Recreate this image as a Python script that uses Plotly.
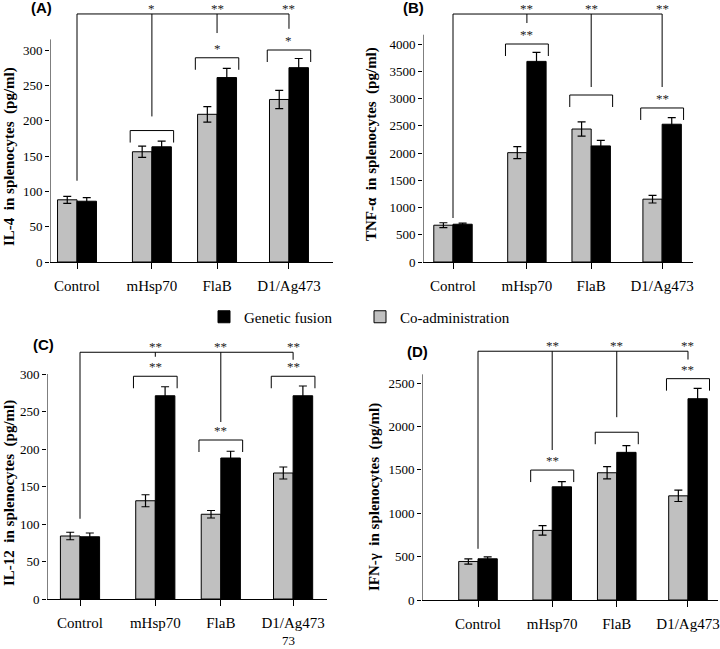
import plotly.graph_objects as go

# ---------------- data ----------------
categories = ["Control", "mHsp70", "FlaB", "D1/Ag473"]

il4_co = [88, 156, 209, 230]
il4_co_err = [5, 8, 11, 13]
il4_gf = [86, 163, 261, 275]
il4_gf_err = [5, 8, 13, 13]

tnf_co = [675, 2006, 2440, 1153]
tnf_co_err = [45, 110, 130, 70]
tnf_gf = [693, 3681, 2130, 2528]
tnf_gf_err = [20, 165, 100, 120]

il12_co = [84, 131, 113, 168]
il12_co_err = [5, 8, 5, 8]
il12_gf = [83, 271, 188, 271]
il12_gf_err = [5, 12, 9, 13]

ifn_co = [444, 802, 1466, 1200]
ifn_co_err = [30, 55, 70, 65]
ifn_gf = [475, 1304, 1701, 2319]
ifn_gf_err = [22, 60, 78, 120]

il4_ticks = [0, 50, 100, 150, 200, 250, 300]
tnf_ticks = [0, 500, 1000, 1500, 2000, 2500, 3000, 3500, 4000]
il12_ticks = [0, 50, 100, 150, 200, 250, 300]
ifn_ticks = [0, 500, 1000, 1500, 2000, 2500]

# significance: comparison vs Control (line level, drop ends per group, stars)
il4_sig_top = 351
il4_sig_drop = [115, 206, 324, 330]
il4_sig_stars = ["", "*", "**", "**"]
il4_pair_level = [None, 186, 289, 300]
il4_pair_stars = ["", "", "*", "*"]

tnf_sig_top = 4550
tnf_sig_drop = [807, 4385, 3211, 3211]
tnf_sig_stars = ["", "**", "**", "**"]
tnf_pair_level = [None, 4000, 3064, 2826]
tnf_pair_stars = ["", "**", "", "**"]

il12_sig_top = 329
il12_sig_drop = [107, 323, 236, 319]
il12_sig_stars = ["", "**", "**", "**"]
il12_pair_level = [None, 297, 212, 297]
il12_pair_stars = ["", "**", "**", "**"]

ifn_sig_top = 2866
ifn_sig_drop = [590, 1728, 2106, 2770]
ifn_sig_stars = ["", "**", "**", "**"]
ifn_pair_level = [None, 1497, 1933, 2550]
ifn_pair_stars = ["", "**", "", "**"]

series_names = ["Co-administration", "Genetic fusion"]

# ---------------- layout helpers ----------------
W, H = 720, 649
positions = [0, 1, 1.87, 2.83]
BW = 0.26
SERIF = "Liberation Serif, Times New Roman, serif"
SANS = "Liberation Sans, Arial, sans-serif"
SP = "&nbsp;&nbsp;"


def px(v):
    return v / W


def py(v):
    return 1 - v / H


panels = [
    dict(label="(A)", co=il4_co, coe=il4_co_err, gf=il4_gf, gfe=il4_gf_err, ticks=il4_ticks,
         title=f"IL-4{SP}in splenocytes{SP}(pg/ml)", axis_top=315,
         top=il4_sig_top, drop=il4_sig_drop, stars=il4_sig_stars,
         plev=il4_pair_level, pstars=il4_pair_stars,
         xd=(50, 333), yd=(262, 0), x0=77, ppu=74.9, ypu=212 / 300,
         tx=9, ty=157, lx=41, ly=8),
    dict(label="(B)", co=tnf_co, coe=tnf_co_err, gf=tnf_gf, gfe=tnf_gf_err, ticks=tnf_ticks,
         title=f"TNF-α{SP}in splenocytes{SP}(pg/ml)", axis_top=4170,
         top=tnf_sig_top, drop=tnf_sig_drop, stars=tnf_sig_stars,
         plev=tnf_pair_level, pstars=tnf_pair_stars,
         xd=(423, 693), yd=(262, 0), x0=453, ppu=73.9, ypu=218 / 4000,
         tx=371, ty=144, lx=414, ly=8),
    dict(label="(C)", co=il12_co, coe=il12_co_err, gf=il12_gf, gfe=il12_gf_err, ticks=il12_ticks,
         title=f"IL-12{SP}in splenocytes{SP}(pg/ml)", axis_top=300,
         top=il12_sig_top, drop=il12_sig_drop, stars=il12_sig_stars,
         plev=il12_pair_level, pstars=il12_pair_stars,
         xd=(47, 327), yd=(599, 335), x0=80, ppu=75.3, ypu=225 / 300,
         tx=9, ty=493, lx=43, ly=344),
    dict(label="(D)", co=ifn_co, coe=ifn_co_err, gf=ifn_gf, gfe=ifn_gf_err, ticks=ifn_ticks,
         title=f"IFN-γ{SP}in splenocytes{SP}(pg/ml)", axis_top=2600,
         top=ifn_sig_top, drop=ifn_sig_drop, stars=ifn_sig_stars,
         plev=ifn_pair_level, pstars=ifn_pair_stars,
         xd=(422, 718), yd=(600, 335), x0=478, ppu=74.2, ypu=217 / 2500,
         tx=374, ty=497, lx=417, ly=351),
]

fig = go.Figure()
shapes = []
annotations = []
layout_axes = {}

for i, p in enumerate(panels):
    n = i + 1
    xa = "x" if n == 1 else f"x{n}"
    ya = "y" if n == 1 else f"y{n}"
    xkey = "xaxis" if n == 1 else f"xaxis{n}"
    ykey = "yaxis" if n == 1 else f"yaxis{n}"

    fig.add_trace(go.Bar(
        x=positions, y=p["co"], width=BW, offset=-BW, name=series_names[0],
        marker=dict(color="#c0c0c0", line=dict(color="black", width=1)),
        error_y=dict(type="data", array=p["coe"], color="black", thickness=1.2, width=4),
        xaxis=xa, yaxis=ya, showlegend=(i == 0), legendrank=2,
    ))
    fig.add_trace(go.Bar(
        x=positions, y=p["gf"], width=BW, offset=0, name=series_names[1],
        marker=dict(color="black", line=dict(color="black", width=1)),
        error_y=dict(type="data", array=p["gfe"], color="black", thickness=1.2, width=4),
        xaxis=xa, yaxis=ya, showlegend=(i == 0), legendrank=1,
    ))

    xr0 = (p["xd"][0] - p["x0"]) / p["ppu"]
    xr1 = (p["xd"][1] - p["x0"]) / p["ppu"]
    yr1 = (p["yd"][0] - p["yd"][1]) / p["ypu"]

    layout_axes[xkey] = dict(
        domain=[px(p["xd"][0]), px(p["xd"][1])], range=[xr0, xr1], anchor=ya,
        tickvals=positions, ticktext=categories, ticks="outside", ticklen=6,
        tickcolor="black", tickwidth=1, showline=True, linecolor="black", linewidth=1,
        showgrid=False, zeroline=False, tickfont=dict(family=SERIF, size=15, color="black"),
        ticklabelstandoff=4,
    )
    layout_axes[ykey] = dict(
        domain=[py(p["yd"][0]), py(p["yd"][1])], range=[0, yr1], anchor=xa,
        tickvals=p["ticks"], ticks="outside", ticklen=4, tickcolor="black", tickwidth=1,
        showline=False, showgrid=False, zeroline=False,
        tickfont=dict(family=SERIF, size=13, color="black"),
    )

    # custom y-axis line (limited height as in the original)
    shapes.append(dict(type="line", xref=xa, yref=ya, x0=xr0, x1=xr0, y0=0, y1=p["axis_top"],
                       line=dict(color="black", width=1)))

    # comparison line vs control
    lc = dict(color="black", width=1)
    shapes.append(dict(type="line", xref=xa, yref=ya, x0=positions[0], x1=positions[-1],
                       y0=p["top"], y1=p["top"], line=lc))
    leg = 12 / p["ypu"]
    for k in range(len(categories)):
        shapes.append(dict(type="line", xref=xa, yref=ya, x0=positions[k], x1=positions[k],
                           y0=p["top"], y1=p["drop"][k], line=lc))
        if p["stars"][k]:
            annotations.append(dict(xref=xa, yref=ya, x=positions[k], y=p["top"], text=p["stars"][k],
                                    showarrow=False, yanchor="bottom", yshift=-4,
                                    font=dict(family=SERIF, size=13, color="#222222")))
        lev = p["plev"][k]
        if lev is not None:
            xl = positions[k] - 0.29
            xr = positions[k] + 0.29
            shapes.append(dict(type="path", xref=xa, yref=ya,
                               path=f"M {xl},{lev - leg} L {xl},{lev} L {xr},{lev} L {xr},{lev - leg}",
                               line=lc))
            if p["pstars"][k]:
                annotations.append(dict(xref=xa, yref=ya, x=positions[k], y=lev, text=p["pstars"][k],
                                        showarrow=False, yanchor="bottom", yshift=0,
                                        font=dict(family=SERIF, size=13, color="#222222")))

    # panel label
    annotations.append(dict(xref="paper", yref="paper", x=px(p["lx"]), y=py(p["ly"]), text=f"<b>{p['label']}</b>",
                            showarrow=False, xanchor="center", yanchor="middle",
                            font=dict(family=SANS, size=15, color="black")))
    # y title
    annotations.append(dict(xref="paper", yref="paper", x=px(p["tx"]), y=py(p["ty"]), text=f"<b>{p['title']}</b>",
                            showarrow=False, textangle=-90, xanchor="center", yanchor="middle",
                            font=dict(family=SERIF, size=15, color="black")))

# stray page number under panel C
annotations.append(dict(xref="paper", yref="paper", x=px(288), y=py(640), text="73", showarrow=False,
                        xanchor="center", yanchor="middle", font=dict(family=SERIF, size=13, color="black")))

fig.update_layout(
    width=W, height=H, margin=dict(l=0, r=0, t=0, b=0, autoexpand=False),
    paper_bgcolor="white", plot_bgcolor="white",
    barmode="overlay", bargap=0,
    shapes=shapes, annotations=annotations,
    showlegend=True, hovermode=False,
    legend=dict(orientation="h", x=px(204), y=py(317), xanchor="left", yanchor="middle",
                font=dict(family=SERIF, size=15, color="black"), entrywidth=111, entrywidthmode="pixels",
                bgcolor="rgba(0,0,0,0)", traceorder="normal"),
    **layout_axes,
)

fig.write_html(
    "out.html",
    config={"displayModeBar": False, "staticPlot": True},
    post_script="document.body.style.margin='0';document.body.style.overflow='hidden';",
)
